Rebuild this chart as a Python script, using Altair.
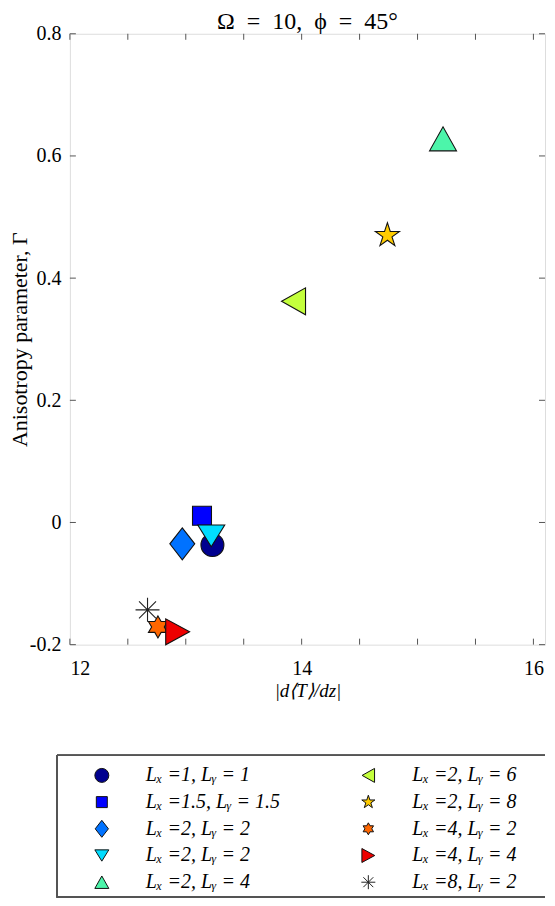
import math
import altair as alt
import pandas as pd

# ---------------- data ----------------
labels = ["Lₓ =1, Lᵧ = 1", "Lₓ =1.5, Lᵧ = 1.5", "Lₓ =2, Lᵧ = 2", "Lₓ =2, Lᵧ = 2",
          "Lₓ =2, Lᵧ = 4", "Lₓ =2, Lᵧ = 6", "Lₓ =2, Lᵧ = 8", "Lₓ =4, Lᵧ = 2",
          "Lₓ =4, Lᵧ = 4", "Lₓ =8, Lᵧ = 2"]
grad_T = [13.23, 13.14, 12.97, 13.22, 15.22, 13.93, 14.74, 12.76, 12.93, 12.67]
anis = [-0.037, 0.011, -0.035, -0.022, 0.628, 0.362, 0.470, -0.171, -0.179, -0.143]
legend_col = [0, 0, 0, 0, 0, 1, 1, 1, 1, 1]
legend_row = [0, 1, 2, 3, 4, 0, 1, 2, 3, 4]

x_tick_values = [12, 12.5, 13, 13.5, 14, 14.5, 15, 15.5, 16]
x_label_values = [12, 14, 16]
y_tick_values = [-0.2, 0, 0.2, 0.4, 0.6, 0.8]

# ---------------- styles ----------------
def star_path(n, r_in):
    pts = []
    for i in range(2 * n):
        r = 1.0 if i % 2 == 0 else r_in
        a = math.radians(-90 + i * 180.0 / n)
        pts.append(f"{r*math.cos(a):.3f},{r*math.sin(a):.3f}")
    return "M" + "L".join(pts) + "Z"

shapes = [
    "circle",
    "square",
    "M0,-1L0.78,0L0,1L-0.78,0Z",
    "M-1,-0.81L1,-0.81L0,0.81Z",
    "M-1,0.89L1,0.89L0,-0.89Z",
    "M0.89,-1L0.89,1L-0.89,0Z",
    star_path(5, 0.382),
    star_path(6, 0.577),
    "M-0.92,-1L-0.92,1L0.92,0Z",
    "M-1,0L1,0M0,-1L0,1M-0.71,-0.71L0.71,0.71M-0.71,0.71L0.71,-0.71",
]
fills = ["#00008f", "#0000ff", "#0072ff", "#00dcff", "#4cf5aa", "#c4ff3c",
         "#ffcc00", "#ff6600", "#ee0000", "transparent"]
strokes = ["#111111"] * 9 + ["#222222"]
sizes_plot = [529, 361, 1024, 729, 729, 729, 645, 484, 676, 576]
sizes_legend = [196, 121, 289, 196, 196, 196, 190, 144, 196, 196]

df = pd.DataFrame({
    "label": labels, "x": grad_T, "y": anis,
    "shape": shapes, "fill": fills, "stroke": strokes,
    "size": sizes_plot, "lsize": sizes_legend,
    "col": legend_col, "row": legend_row,
})

SERIF = "Liberation Serif"
W, H = 476, 612
AXC = "#555555"

xscale = alt.Scale(domain=[12, 16.1], nice=False, zero=False)
yscale = alt.Scale(domain=[-0.2, 0.8], nice=False, zero=False)

xaxis = alt.Axis(values=x_label_values, ticks=False, domain=False, grid=False,
                 labelFont=SERIF, labelFontSize=20, labelColor="black",
                 labelPadding=14, title="|d⟨T⟩/dz|", titleFont=SERIF,
                 titleFontSize=19, titleFontWeight="normal", titleFontStyle="italic",
                 titleColor="black", titlePadding=3)
yaxis = alt.Axis(values=y_tick_values, ticks=False, domain=False, grid=False,
                 labelExpr="toString(datum.value)",
                 labelFont=SERIF, labelFontSize=20, labelColor="black",
                 labelPadding=9, minExtent=36, maxExtent=36,
                 title="Anisotropy parameter, Γ", titleFont=SERIF,
                 titleFontSize=22, titleFontWeight="normal", titleColor="black",
                 titlePadding=2)

xt = pd.DataFrame({"t": x_tick_values})
yt = pd.DataFrame({"t": y_tick_values})
tick_style = dict(color=AXC, strokeWidth=1)
xt_bottom = alt.Chart(xt).mark_rule(**tick_style).encode(
    x=alt.X("t:Q", scale=xscale, axis=xaxis), y=alt.value(H), y2=alt.value(H - 6))
xt_top = alt.Chart(xt).mark_rule(**tick_style).encode(
    x=alt.X("t:Q", scale=xscale, axis=xaxis), y=alt.value(0), y2=alt.value(6))
yt_left = alt.Chart(yt).mark_rule(**tick_style).encode(
    y=alt.Y("t:Q", scale=yscale, axis=yaxis), x=alt.value(0), x2=alt.value(6))
yt_right = alt.Chart(yt).mark_rule(**tick_style).encode(
    y=alt.Y("t:Q", scale=yscale, axis=yaxis), x=alt.value(W), x2=alt.value(W - 6))

points = alt.Chart(df).mark_point(filled=True, opacity=1, strokeWidth=1.1).encode(
    x=alt.X("x:Q", scale=xscale, axis=xaxis),
    y=alt.Y("y:Q", scale=yscale, axis=yaxis),
    shape=alt.Shape("shape:N", scale=None),
    fill=alt.Fill("fill:N", scale=None),
    stroke=alt.Stroke("stroke:N", scale=None),
    size=alt.Size("size:Q", scale=None),
)

plot = alt.layer(xt_bottom, xt_top, yt_left, yt_right, points).properties(
    width=W, height=H,
    title=alt.TitleParams("Ω\u2002=\u200210,\u2002ϕ\u2002=\u200245°", font=SERIF, fontSize=24,
                          fontWeight="normal", color="black", offset=-10, anchor="middle",
                          frame="group"),
)

# ---------------- legend panel ----------------
LW, LH = W, 142
BOX_LEFT = -13
lx = alt.Scale(domain=[0, 1], range=[32, 299])
ly = alt.Scale(domain=[0, 4], range=[20, 127])
leg_sym = alt.Chart(df).mark_point(filled=True, opacity=1, strokeWidth=1).encode(
    x=alt.X("col:Q", scale=lx, axis=None),
    y=alt.Y("row:Q", scale=ly, axis=None),
    shape=alt.Shape("shape:N", scale=None),
    fill=alt.Fill("fill:N", scale=None),
    stroke=alt.Stroke("stroke:N", scale=None),
    size=alt.Size("lsize:Q", scale=None),
)
leg_txt = alt.Chart(df).mark_text(align="left", baseline="middle", dx=44,
                                  font=SERIF, fontSize=20, fontStyle="italic",
                                  color="black").encode(
    x=alt.X("col:Q", scale=lx, axis=None),
    y=alt.Y("row:Q", scale=ly, axis=None),
    text="label:N",
)
frame_style = dict(color=AXC, strokeWidth=1.2)
frame_top = alt.Chart(xt).mark_rule(**frame_style).encode(
    x=alt.value(BOX_LEFT), x2=alt.value(LW), y=alt.value(0))
frame_bottom = alt.Chart(xt).mark_rule(**frame_style).encode(
    x=alt.value(BOX_LEFT), x2=alt.value(LW), y=alt.value(LH))
frame_left = alt.Chart(xt).mark_rule(**frame_style).encode(
    x=alt.value(BOX_LEFT), y=alt.value(0), y2=alt.value(LH))

legend = alt.layer(frame_top, frame_bottom, frame_left, leg_sym, leg_txt).properties(
    width=LW, height=LH, view=alt.ViewBackground(stroke="transparent"))

chart = alt.vconcat(plot, legend, spacing=52).properties(
    padding={"left": 0, "top": 0, "right": 0, "bottom": 0}
).configure_view(stroke=AXC, strokeWidth=1).configure(background="white")

chart.save("out.html", embed_options={"renderer": "svg", "actions": False})
